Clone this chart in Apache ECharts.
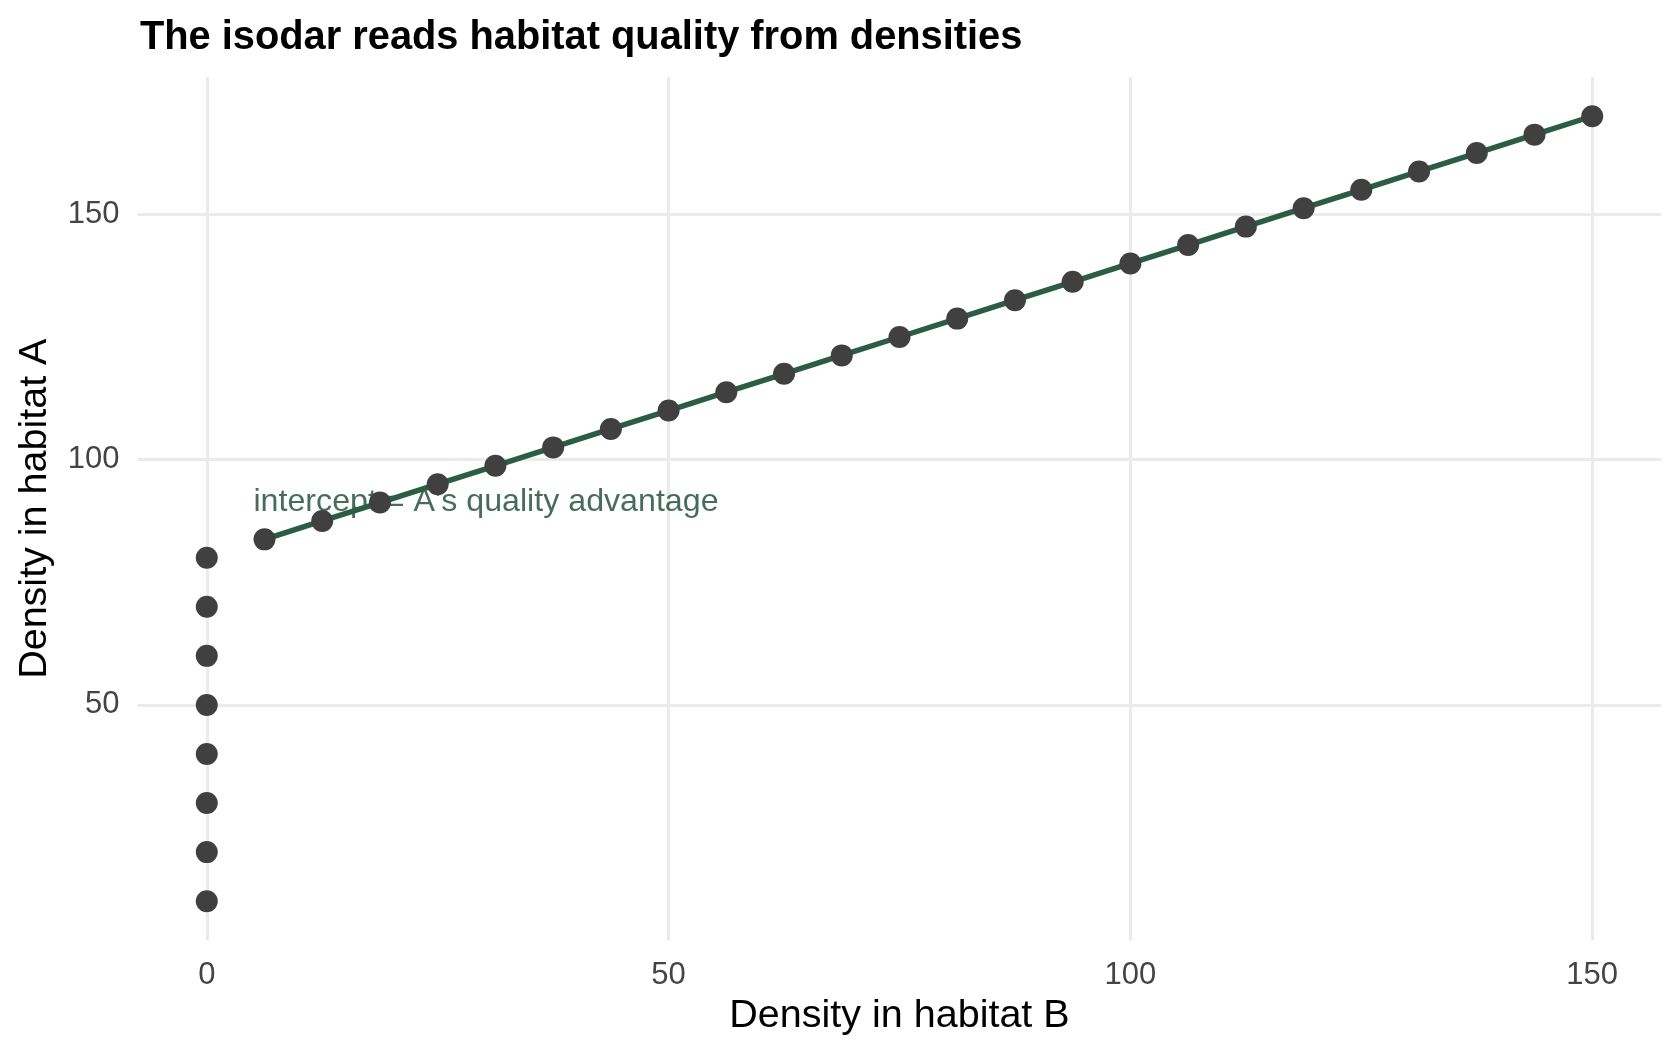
<!DOCTYPE html>
<html>
<head>
<meta charset="utf-8">
<title>Isodar</title>
<script src="https://cdn.jsdelivr.net/npm/echarts@6/dist/echarts.min.js"></script>
<style>
  html, body { margin: 0; padding: 0; background: #fff; }
  #chart { width: 1680px; height: 1056px; }
</style>
</head>
<body>
<div id="chart"></div>
<script>
// habitat A fills alone while B stays empty
const soloB = [0, 0, 0, 0, 0, 0, 0, 0]
const soloA = [10, 20, 30, 40, 50, 60, 70, 80]
// both habitats occupied -> the isodar
const isoB = [6.25, 12.5, 18.75, 25, 31.25, 37.5, 43.75, 50, 56.25, 62.5, 68.75, 75,
  81.25, 87.5, 93.75, 100, 106.25, 112.5, 118.75, 125, 131.25, 137.5, 143.75, 150]
const isoA = [83.75, 87.5, 91.25, 95, 98.75, 102.5, 106.25, 110, 113.75, 117.5, 121.25, 125,
  128.75, 132.5, 136.25, 140, 143.75, 147.5, 151.25, 155, 158.75, 162.5, 166.25, 170]
const xTicks = [0, 50, 100, 150]
const yTicks = [50, 100, 150]
const noteText = "intercept = A's quality advantage"
const notePos = [5, 91.4]

const FONT = 'Liberation Sans, Arial, Helvetica, sans-serif'
const GREEN = '#2b5d43'
const DOT = '#404040'

const isoPairs = isoB.map((b, i) => [b, isoA[i]])
const allPairs = soloB.map((b, i) => [b, soloA[i]]).concat(isoPairs)

let chart = echarts.init(document.getElementById('chart'), null, {renderer: 'canvas'})

let option = {
  animation: false,
  backgroundColor: '#fff',
  textStyle: {fontFamily: FONT},
  title: {
    text: 'The isodar reads habitat quality from densities',
    left: 140,
    top: 18,
    padding: 0,
    textStyle: {fontFamily: FONT, fontSize: 39.8, fontWeight: 'bold', color: '#000'}
  },
  grid: {
    left: 137.5,
    right: 18.5,
    top: 77,
    bottom: 115.6,
    containLabel: false,
    outerBoundsMode: 'none'
  },
  xAxis: {
    type: 'value',
    min: -7.5,
    max: 157.5,
    name: 'Density in habitat B',
    nameLocation: 'middle',
    nameGap: 56,
    nameTextStyle: {fontFamily: FONT, fontSize: 39.5, color: '#000'},
    axisLine: {show: false},
    axisTick: {show: false, customValues: xTicks},
    axisLabel: {customValues: xTicks, margin: 20, fontSize: 31, color: '#444444', fontFamily: FONT},
    splitLine: {show: true, lineStyle: {color: '#ebebeb', width: 3.2}}
  },
  yAxis: {
    type: 'value',
    min: 2,
    max: 178,
    name: 'Density in habitat A',
    nameLocation: 'middle',
    nameGap: 82,
    nameRotate: 90,
    nameTextStyle: {fontFamily: FONT, fontSize: 39.5, color: '#000'},
    axisLine: {show: false},
    axisTick: {show: false, customValues: yTicks},
    axisLabel: {customValues: yTicks, margin: 18, fontSize: 31, color: '#444444', fontFamily: FONT},
    splitLine: {show: true, lineStyle: {color: '#ebebeb', width: 3.2}}
  },
  series: [
    {
      // annotation text placed at its data position
      type: 'scatter',
      data: [notePos],
      symbolSize: 1,
      itemStyle: {color: 'rgba(0,0,0,0)'},
      silent: true,
      z: 2,
      label: {
        show: true,
        position: 'right',
        distance: 0,
        formatter: noteText,
        fontFamily: FONT,
        fontSize: 32.2,
        color: '#184830'
      }
    },
    {
      type: 'line',
      data: isoPairs,
      showSymbol: false,
      symbol: 'none',
      lineStyle: {color: GREEN, width: 5.5},
      silent: true,
      z: 3
    },
    {
      type: 'scatter',
      data: allPairs,
      symbol: 'circle',
      symbolSize: 22,
      itemStyle: {color: DOT, opacity: 1},
      z: 4
    }
  ]
}

chart.setOption(option)
</script>
</body>
</html>
